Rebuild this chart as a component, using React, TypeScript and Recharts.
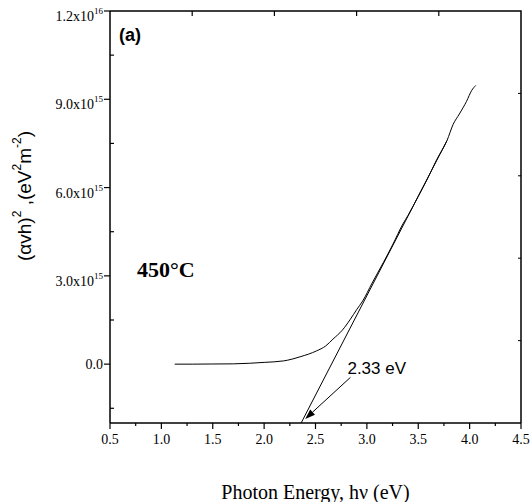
import React from "react";
import { ComposedChart, Line, XAxis, YAxis, ReferenceLine } from "recharts";

// photon energy (eV) and (alpha h nu)^2
const energy = [
  1.13, 1.3, 1.5, 1.7, 1.86, 2.0, 2.19, 2.35, 2.51, 2.6, 2.67, 2.76, 2.84, 2.9,
  2.96, 3.05, 3.16, 3.25, 3.35, 3.4, 3.5, 3.59, 3.68, 3.78, 3.84, 3.9, 3.97,
  4.02, 4.06,
];
const absorption = [
  0, 0, 0.005e15, 0.01e15, 0.03e15, 0.06e15, 0.11e15, 0.25e15, 0.45e15,
  0.62e15, 0.85e15, 1.15e15, 1.53e15, 1.85e15, 2.15e15, 2.75e15, 3.45e15,
  4.05e15, 4.76e15, 5.05e15, 5.7e15, 6.3e15, 6.95e15, 7.6e15, 8.15e15, 8.5e15,
  8.93e15, 9.3e15, 9.47e15,
];

// linear fit (tangent) end points
const fitEnergy = [2.36, 3.78];
const fitValue = [-2e15, 7.6e15];

// arrow from label to the intercept
const arrowEnergy = [2.84, 2.4];
const arrowValue = [-0.45e15, -1.86e15];
const gapLabel = "2.33 eV";

const xMajor = [0.5, 1.0, 1.5, 2.0, 2.5, 3.0, 3.5, 4.0, 4.5];
const xMinor = [0.75, 1.25, 1.75, 2.25, 2.75, 3.25, 3.75, 4.25];
const yMajor = [0, 3e15, 6e15, 9e15, 1.2e16];
const yMinor = [-1.5e15, 1.5e15, 4.5e15, 7.5e15, 1.05e16];
const yTickMantissa = ["0.0", "3.0", "6.0", "9.0", "1.2"];
const yTickExp = ["", "15", "15", "15", "16"];

// ticks of the top and right frame edges
const topTicks = [1.3, 2.1, 2.9, 3.7];
const rightTicks = [0.8e15, 3.6e15, 6.4e15, 9.2e15];

const xMin = 0.5;
const xMax = 4.5;
const yMin = -2e15;
const yMax = 1.2e16;

const serif = "'Liberation Serif', 'Times New Roman', serif";
const sans = "'Liberation Sans', Arial, sans-serif";

const curve = energy.map((x, i) => ({ x, y: absorption[i] }));
const fit = fitEnergy.map((x, i) => ({ x, y: fitValue[i] }));

const XTick = (props: any) => {
  const { x, y, payload } = props;
  const major = xMajor.includes(payload.value);
  return (
    <g>
      <line x1={x} x2={x} y1={y} y2={y + (major ? 6 : 3)} stroke="#000" strokeWidth={1.2} />
      {major && (
        <text x={x} y={y + 21} textAnchor="middle" fontFamily={serif} fontSize={14} fill="#000">
          {payload.value.toFixed(1)}
        </text>
      )}
    </g>
  );
};

const YTick = (props: any) => {
  const { x, y, payload } = props;
  const idx = yMajor.indexOf(payload.value);
  if (idx < 0) {
    return <line x1={x} x2={x + 4} y1={y} y2={y} stroke="#000" strokeWidth={1.2} />;
  }
  const exp = yTickExp[idx];
  return (
    <g>
      <line x1={x - 6} x2={x} y1={y} y2={y} stroke="#000" strokeWidth={1.2} />
      <text x={x - 7} y={y + (exp ? 10 : 5)} textAnchor="end" fontFamily={serif} fontSize={14} fill="#000">
        {yTickMantissa[idx]}
        {exp && (
          <>
            x10
            <tspan dy={-7} fontSize={9}>
              {exp}
            </tspan>
          </>
        )}
      </text>
    </g>
  );
};

const Arrow = (props: any) => {
  const { x1, y1, x2, y2 } = props;
  const a = Math.atan2(y2 - y1, x2 - x1);
  const len = 10;
  const w = 3.5;
  const bx = x2 - len * Math.cos(a);
  const by = y2 - len * Math.sin(a);
  const px = -Math.sin(a) * w;
  const py = Math.cos(a) * w;
  return (
    <g>
      <line x1={x1} y1={y1} x2={bx} y2={by} stroke="#000" strokeWidth={1} />
      <polygon points={`${x2},${y2} ${bx + px},${by + py} ${bx - px},${by - py}`} fill="#000" />
      <text x={x1 - 3} y={y1 - 3.5} fontFamily={sans} fontSize={17} fill="#000">
        {gapLabel}
      </text>
    </g>
  );
};

// top and right edges drawn from the corner points, with their small inward ticks
const FrameShape = (props: any) => {
  const { x1, y1, x2, y2 } = props;
  const left = Math.min(x1, x2);
  const right = Math.max(x1, x2);
  const top = Math.min(y1, y2);
  const bottom = Math.max(y1, y2);
  const pw = right - left;
  const ph = bottom - top;
  const tx = topTicks.map((t) => left + ((t - xMin) / (xMax - xMin)) * pw);
  const ry = rightTicks.map((t) => bottom - ((t - yMin) / (yMax - yMin)) * ph);
  return (
    <g>
      <path d={`M${left},${top}H${right}V${bottom}`} fill="none" stroke="#000" strokeWidth={1.5} />
      {tx.map((x, i) => (
        <path key={`t${i}`} d={`M${x},${top}V${top + 5}`} stroke="#000" strokeWidth={1.2} />
      ))}
      {ry.map((y, i) => (
        <path key={`r${i}`} d={`M${right - 3},${y}H${right}`} stroke="#000" strokeWidth={1} />
      ))}
    </g>
  );
};

export default function App() {
  return (
    <div style={{ position: "absolute", left: 0, top: 0, width: 532, height: 502, background: "#fff" }}>
      <ComposedChart width={532} height={502} margin={{ top: 11, right: 11, bottom: 0, left: 0 }}>
        <XAxis
          dataKey="x"
          type="number"
          domain={[xMin, xMax]}
          ticks={[...xMajor, ...xMinor]}
          interval={0}
          height={79}
          tickLine={false}
          tickSize={0}
          tickMargin={0}
          tick={<XTick />}
          axisLine={{ stroke: "#000", strokeWidth: 1.5 }}
          label={{
            value: "Photon Energy, hν (eV)",
            position: "insideBottom",
            offset: 3,
            style: { fontFamily: serif, fontSize: 20, fill: "#000" },
          }}
        />
        <YAxis
          type="number"
          domain={[yMin, yMax]}
          ticks={[...yMajor, ...yMinor]}
          interval={0}
          width={110}
          tickLine={false}
          tickSize={0}
          tickMargin={0}
          tick={<YTick />}
          axisLine={{ stroke: "#000", strokeWidth: 1.5 }}
        />
        <Line
          data={curve}
          dataKey="y"
          type="monotone"
          stroke="#000"
          strokeWidth={1}
          dot={false}
          isAnimationActive={false}
        />
        <Line
          data={fit}
          dataKey="y"
          type="linear"
          stroke="#000"
          strokeWidth={1}
          dot={false}
          isAnimationActive={false}
        />
        <ReferenceLine
          segment={[
            { x: arrowEnergy[0], y: arrowValue[0] },
            { x: arrowEnergy[1], y: arrowValue[1] },
          ]}
          shape={Arrow}
          ifOverflow="visible"
        />
        <ReferenceLine
          segment={[
            { x: xMin, y: yMax },
            { x: xMax, y: yMin },
          ]}
          shape={FrameShape}
          ifOverflow="visible"
        />
        <text
          x={24}
          y={196}
          transform="rotate(-90 24 196)"
          textAnchor="middle"
          dominantBaseline="central"
          fontFamily={sans}
          fontSize={19}
          fill="#000"
        >
          (αvh)<tspan dy={-7} fontSize={12}>2</tspan>
          <tspan dy={7}> ,(eV</tspan>
          <tspan dy={-7} fontSize={12}>2</tspan>
          <tspan dy={7}>m</tspan>
          <tspan dy={-7} fontSize={12}>-2</tspan>
          <tspan dy={7}>)</tspan>
        </text>
        <text x={119} y={41} fontFamily={sans} fontWeight="bold" fontSize={18} fill="#000">
          (a)
        </text>
        <text x={137} y={277} fontFamily={serif} fontWeight="bold" fontSize={22} fill="#000">
          450°C
        </text>
      </ComposedChart>
    </div>
  );
}
